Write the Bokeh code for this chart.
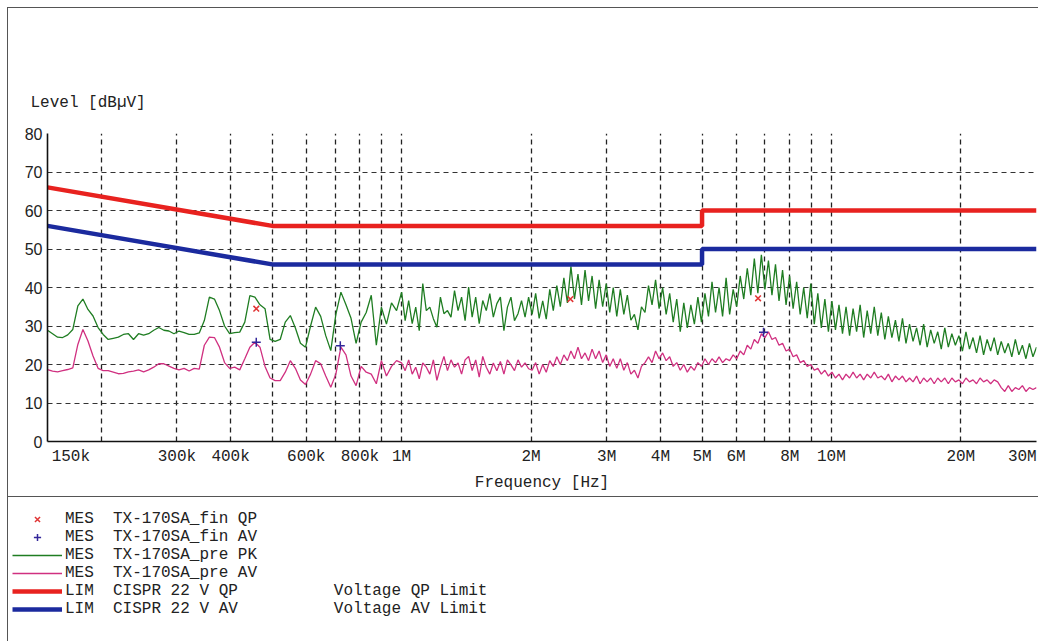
import numpy as np
from bokeh.plotting import figure
from bokeh.models import Range1d, FixedTicker, Legend, LegendItem
from bokeh.layouts import column
from bokeh.embed import file_html
from bokeh.resources import INLINE

# ---------------- data ----------------
# analyser sweep (log spaced): low band 150 kHz..1 MHz, high band 1 MHz..30 MHz
LOW_SWEEP = (150e3, 1e6, 70)
HIGH_SWEEP = (1e6, 30e6, 181)

PK_LOW = [
    28.9, 28.0, 27.1, 27.0, 27.7, 29.1, 35.2, 37.0, 34.3, 32.6,
    29.6, 27.8, 26.5, 26.8, 27.1, 27.8, 28.0, 26.5, 28.0, 27.6,
    28.0, 28.9, 29.6, 28.9, 28.7, 28.0, 28.7, 28.3, 27.8, 27.8,
    28.2, 31.4, 37.5, 37.0, 34.0, 30.0, 28.0, 28.3, 28.4, 31.0,
    37.9, 37.5, 35.5, 34.5, 26.5, 26.0, 26.5, 31.0, 32.7, 29.5,
    25.5, 24.5, 30.0, 34.9, 32.5, 27.5, 23.6, 33.0, 38.8, 35.5,
    32.0, 25.5, 31.0, 33.5, 38.0, 25.0, 34.9, 30.5, 36.0, 34.0,
]
AV_LOW = [
    18.7, 18.3, 18.1, 18.4, 18.7, 19.1, 25.2, 29.1, 26.1, 22.2,
    19.0, 18.4, 18.4, 18.0, 17.6, 17.7, 18.1, 18.3, 18.6, 18.1,
    18.6, 19.3, 20.2, 20.2, 19.6, 19.0, 18.6, 19.0, 18.3, 19.0,
    18.8, 25.0, 27.1, 27.0, 24.5, 20.5, 19.0, 19.3, 18.6, 21.5,
    24.5, 25.8, 24.5, 19.5, 16.5, 15.8, 15.8, 18.0, 21.0, 19.0,
    16.0, 14.8, 17.5, 21.0, 20.2, 17.0, 14.1, 17.5, 24.5, 22.5,
    17.0, 14.5, 19.5, 18.0, 17.5, 15.0, 21.0, 17.0, 19.5, 21.0,
]
PK_HIGH = [
    38.8, 31.4, 36.6, 30.6, 34.9, 28.8, 41.0, 34.0, 34.9, 31.9,
    29.7, 37.5, 33.2, 34.0, 32.3, 39.2, 34.0, 37.5, 31.4, 40.1,
    32.3, 37.5, 30.6, 36.6, 34.0, 38.4, 32.3, 35.8, 37.5, 28.8,
    34.9, 37.5, 31.4, 33.2, 36.6, 32.3, 37.5,
    33.0, 38.5, 32.0, 36.5, 31.8, 39.5, 34.0, 40.5, 35.0, 42.5,
    36.0, 45.5, 37.0, 43.5, 35.5, 44.5, 36.5, 43.0, 34.5, 42.0,
    35.0, 41.0, 33.5, 40.0, 32.5, 39.5, 33.0, 38.0, 31.5, 33.0,
    29.0, 35.0, 33.5, 40.5, 35.5, 42.0, 34.5, 40.0, 33.0, 38.5,
    31.0, 37.0, 28.5, 36.0, 29.5, 35.5, 30.5, 37.5, 31.0, 38.5,
    32.5, 41.5, 33.5, 40.0, 32.5, 42.5, 33.0, 39.5, 35.0, 43.0,
    37.0, 45.0, 38.0, 47.5, 38.5, 48.5, 39.5, 47.0, 38.0, 46.0,
    36.5, 44.5, 35.5, 43.0, 34.5, 41.5, 33.0, 40.0, 32.0, 41.0,
    30.5, 38.5, 29.5, 37.0, 28.5, 36.5, 29.0, 35.5, 28.0, 35.0,
    27.5, 34.5, 28.5, 35.5, 27.0, 34.0, 28.0, 35.0, 27.5, 33.5,
    26.5, 32.5, 27.0, 31.5, 26.0, 32.0, 25.5, 30.5, 26.0, 29.5,
    25.0, 30.5, 24.5, 29.0, 25.5, 28.5, 24.0, 29.5, 24.5, 28.0,
    25.0, 27.5, 23.5, 28.5, 24.0, 27.0, 23.0, 27.5, 22.5, 26.5,
    23.5, 27.0, 22.5, 26.0, 23.0, 25.5, 22.0, 26.5, 22.5, 25.0,
    21.5, 25.5, 22.0, 24.5,
]
AV_HIGH = [
    20.4, 18.4, 21.2, 17.5, 19.3, 16.3, 20.4, 19.3, 17.5, 21.2,
    15.9, 19.3, 22.1, 18.4, 21.2, 19.3, 20.4, 17.5, 21.2, 22.1,
    18.4, 21.2, 16.7, 22.1, 19.3, 17.5, 20.4, 18.4, 20.8, 17.5,
    21.2, 19.9, 18.4, 21.2, 19.3, 20.4, 18.9,
    18.5, 20.5, 17.5, 20.0, 18.0, 21.0, 19.5, 22.0, 20.0, 22.5,
    21.0, 23.5, 21.5, 24.5, 21.5, 23.0, 21.0, 24.0, 21.5, 23.5,
    20.5, 22.5, 19.5, 21.5, 19.0, 21.5, 18.5, 20.5, 17.5, 18.5,
    16.5, 19.5, 20.5, 22.0, 20.5, 23.5, 21.5, 23.0, 21.0, 22.0,
    19.5, 20.5, 18.5, 20.0, 18.0, 19.5, 18.5, 20.5, 19.5, 21.5,
    20.0, 21.5, 20.5, 22.0, 20.5, 21.5, 21.0, 22.5, 21.5, 23.5,
    22.5, 25.0, 24.0, 26.5, 25.5, 28.0, 27.0, 28.5, 26.5, 27.0,
    25.0, 25.5, 23.5, 24.0, 22.0, 22.5, 20.5, 21.0, 19.5, 20.0,
    18.5, 19.0, 17.5, 18.5, 17.0, 18.0, 16.5, 17.5, 16.0, 17.5,
    16.5, 18.0, 16.5, 17.5, 16.0, 17.5, 16.5, 18.0, 16.5, 17.0,
    16.0, 17.5, 15.5, 17.0, 16.0, 17.0, 15.5, 16.5, 15.5, 17.0,
    15.0, 16.5, 15.5, 16.5, 15.0, 16.5, 15.5, 16.5, 15.0, 16.5,
    15.5, 16.0, 15.0, 16.5, 15.5, 16.0, 15.0, 16.5, 15.5, 16.0,
    15.0, 16.0, 15.5, 14.0, 13.0, 14.5, 13.0, 14.0, 13.5, 14.5,
    13.0, 14.0, 13.5, 14.0,
]

QP_FREQ = [459e3, 2.47e6, 6.75e6]
QP_LEVEL = [34.5, 37.0, 37.2]
AV_FREQ = [459e3, 720e3, 6.95e6]
AV_LEVEL = [25.8, 24.9, 28.4]

LIMIT_FREQ = [150e3, 500e3, 5e6, 5e6, 30e6]
QP_LIMIT = [66, 56, 56, 60, 60]
AV_LIMIT = [56, 46, 46, 50, 50]

X_TICKS = [150000, 300000, 400000, 600000, 800000, 1000000, 2000000, 3000000,
           4000000, 5000000, 6000000, 8000000, 10000000, 20000000, 30000000]
X_TICK_LABELS = ["150k", "300k", "400k", "600k", "800k", "1M", "2M", "3M",
                 "4M", "5M", "6M", "8M", "10M", "20M", "30M"]
GRID_FREQS = [200000, 300000, 400000, 500000, 600000, 700000, 800000, 900000,
              1000000, 2000000, 3000000, 4000000, 5000000, 6000000, 7000000,
              8000000, 9000000, 10000000, 20000000, 30000000]
Y_TICKS = [0, 10, 20, 30, 40, 50, 60, 70, 80]

LEGEND_LABELS = [
    "MES  TX-170SA_fin QP",
    "MES  TX-170SA_fin AV",
    "MES  TX-170SA_pre PK",
    "MES  TX-170SA_pre AV",
    "LIM  CISPR 22 V QP          Voltage QP Limit",
    "LIM  CISPR 22 V AV          Voltage AV Limit",
]

# ---------------- styling ----------------
GREEN = "#1f7d22"
MAGENTA = "#d03080"
RED = "#e8221f"
BLUE = "#1b2a9e"
MARK_RED = "#e03535"
MARK_BLUE = "#33279a"
MONO = "Liberation Mono"
TXT = "#222222"
FRAME = "-1px -1px 0 #555555"

freq = np.concatenate([
    np.geomspace(LOW_SWEEP[0], LOW_SWEEP[1], LOW_SWEEP[2], endpoint=False),
    np.geomspace(HIGH_SWEEP[0], HIGH_SWEEP[1], HIGH_SWEEP[2]),
])
pk = np.array(PK_LOW + PK_HIGH)
av = np.array(AV_LOW + AV_HIGH)

p = figure(width=1031, height=489, x_axis_type="log",
           x_range=Range1d(150e3, 30e6), y_range=Range1d(0, 80),
           output_backend="svg", toolbar_location=None,
           min_border_left=39, min_border_right=3,
           min_border_top=125, min_border_bottom=56,
           frame_align=False,
           styles={"box-shadow": FRAME})
p.outline_line_color = None
p.background_fill_color = "white"
p.border_fill_color = "white"

p.title.text = "Level [dB\u00b5V]"
p.title.align = "left"
p.title.offset = -17
p.title.standoff = 44
p.title.text_font = MONO
p.title.text_font_size = "16px"
p.title.text_font_style = "normal"
p.title.text_color = TXT

# label positions: edge labels nudged inside the frame like the original print
label_pos = list(X_TICKS)
label_pos[0] = 170000
label_pos[-1] = 27800000
xa = p.xaxis[0]
xa.ticker = FixedTicker(ticks=label_pos)
xa.major_label_overrides = {k: v for k, v in zip(label_pos, X_TICK_LABELS)}
xa.major_tick_in = 0
xa.major_tick_out = 0
xa.minor_tick_in = 0
xa.minor_tick_out = 0
xa.axis_line_color = "#111111"
xa.axis_line_width = 1.6
xa.major_label_standoff = 6
xa.major_label_text_font = MONO
xa.major_label_text_font_size = "16px"
xa.major_label_text_color = TXT
xa.axis_label = "Frequency [Hz]"
xa.axis_label_standoff = 5
xa.axis_label_text_font = MONO
xa.axis_label_text_font_size = "16px"
xa.axis_label_text_font_style = "normal"
xa.axis_label_text_color = TXT

ya = p.yaxis[0]
ya.ticker = FixedTicker(ticks=Y_TICKS)
ya.major_tick_in = 0
ya.major_tick_out = 0
ya.minor_tick_in = 0
ya.minor_tick_out = 0
ya.axis_line_color = "#111111"
ya.axis_line_width = 1.6
ya.major_label_standoff = 5
ya.major_label_text_font = "Liberation Sans"
ya.major_label_text_font_size = "16px"
ya.major_label_text_color = TXT

xg = p.xgrid[0]
xg.ticker = FixedTicker(ticks=GRID_FREQS)
xg.grid_line_color = "#222222"
xg.grid_line_dash = "5 4"
xg.grid_line_width = 1.3
yg = p.ygrid[0]
yg.ticker = FixedTicker(ticks=Y_TICKS[1:])
yg.grid_line_color = "#333333"
yg.grid_line_dash = "5 4"
yg.grid_line_width = 1.1

p.line(freq, pk, line_color=GREEN, line_width=1.3)
p.line(freq, av, line_color=MAGENTA, line_width=1.3)
p.line(LIMIT_FREQ, QP_LIMIT, line_color=RED, line_width=4.5)
p.line(LIMIT_FREQ, AV_LIMIT, line_color=BLUE, line_width=4.5)
p.scatter(QP_FREQ, QP_LEVEL, marker="x", size=8, line_color=MARK_RED, line_width=1.5)
p.scatter(AV_FREQ, AV_LEVEL, marker="cross", size=9, line_color=MARK_BLUE, line_width=1.5)

# ---------------- legend panel ----------------
q = figure(width=1031, height=145, x_range=Range1d(0, 1), y_range=Range1d(0, 1),
           x_axis_location=None, y_axis_location=None,
           output_backend="svg", toolbar_location=None,
           min_border_left=0, min_border_right=0, min_border_top=0, min_border_bottom=0,
           frame_align=False,
           styles={"box-shadow": FRAME})
q.grid.visible = False
q.outline_line_color = None
q.border_fill_color = "white"

# legend proxies: placed outside the visible range, only their legend glyphs show
OFF = dict(x=[-5, -4], y=[-5, -4])
r1 = q.scatter(marker="x", size=8, line_color=MARK_RED, line_width=1.5, **OFF)
r2 = q.scatter(marker="cross", size=8, line_color=MARK_BLUE, line_width=1.5, **OFF)
r3 = q.line(line_color=GREEN, line_width=1.3, **OFF)
r4 = q.line(line_color=MAGENTA, line_width=1.3, **OFF)
r5 = q.line(line_color=RED, line_width=4.5, **OFF)
r6 = q.line(line_color=BLUE, line_width=4.5, **OFF)

items = [LegendItem(label=lab.replace(" ", "\u00a0"), renderers=[r])
         for lab, r in zip(LEGEND_LABELS, [r1, r2, r3, r4, r5, r6])]
leg = Legend(items=items, location=(4, 24), orientation="vertical",
             glyph_width=50, glyph_height=18, label_height=18,
             label_standoff=3, spacing=0, padding=0, margin=0,
             border_line_color=None, background_fill_alpha=0,
             label_text_font=MONO, label_text_font_size="16px",
             label_text_color=TXT)
q.add_layout(leg)

layout = column(p, q, spacing=0, margin=(8, 0, 0, 8))
open("out.html", "w").write(file_html(layout, INLINE))
